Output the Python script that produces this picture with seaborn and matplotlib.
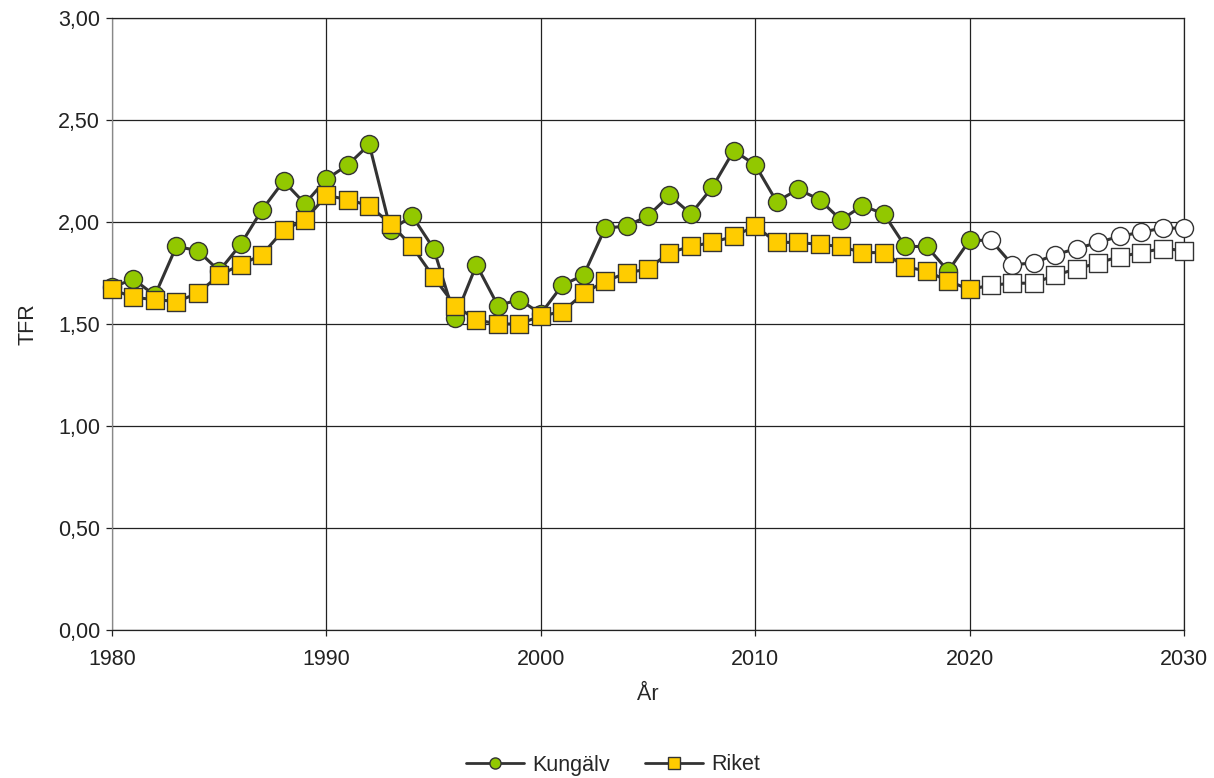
import numpy as np
import pandas as pd
import seaborn as sns
import matplotlib.pyplot as plt
from matplotlib.lines import Line2D
from matplotlib.ticker import FuncFormatter, MultipleLocator

# Data
years = list(range(1980, 2031))
kungalv = [1.68, 1.72, 1.64, 1.88, 1.86, 1.76, 1.89, 2.06, 2.20, 2.09,
           2.21, 2.28, 2.38, 1.96, 2.03, 1.87, 1.53, 1.79, 1.59, 1.62,
           1.55, 1.69, 1.74, 1.97, 1.98, 2.03, 2.13, 2.04, 2.17, 2.35,
           2.28, 2.10, 2.16, 2.11, 2.01, 2.08, 2.04, 1.88, 1.88, 1.76,
           1.91, 1.91, 1.79, 1.80, 1.84, 1.87, 1.90, 1.93, 1.95, 1.97,
           1.97]
riket = [1.67, 1.63, 1.62, 1.61, 1.65, 1.74, 1.79, 1.84, 1.96, 2.01,
         2.13, 2.11, 2.08, 1.99, 1.88, 1.73, 1.59, 1.52, 1.50, 1.50,
         1.54, 1.56, 1.65, 1.71, 1.75, 1.77, 1.85, 1.88, 1.90, 1.93,
         1.98, 1.90, 1.90, 1.89, 1.88, 1.85, 1.85, 1.78, 1.76, 1.71,
         1.67, 1.69, 1.70, 1.70, 1.74, 1.77, 1.80, 1.83, 1.85, 1.87,
         1.86]
last_actual = 2020  # later years are projections (white markers)

GREEN = '#92c800'
YELLOW = '#ffcc00'
LINE = '#333333'
FS = 15.5

df = pd.DataFrame({'Year': years, 'Kungälv': kungalv, 'Riket': riket})
df['proj'] = df['Year'] > last_actual

sns.set_style('white')
plt.rcParams['font.family'] = ['Liberation Sans', 'DejaVu Sans']

fig = plt.figure(figsize=(12.14, 7.78), dpi=100)
ax = fig.add_axes([112 / 1214, 1 - 630 / 778, 1072 / 1214, 612 / 778])

series = [('Kungälv', 'o', GREEN, 13), ('Riket', 's', YELLOW, 12.5)]
z = 3
for name, marker, color, ms in series:
    sns.lineplot(data=df, x='Year', y=name, color=LINE, linewidth=2.2, ax=ax, zorder=z)
    hist = df[~df['proj']]
    proj = df[df['proj']]
    sns.scatterplot(data=hist, x='Year', y=name, marker=marker, s=ms ** 2, clip_on=False,
                    color=color, edgecolor=LINE, linewidth=1.0, ax=ax, zorder=z + 1)
    sns.scatterplot(data=proj, x='Year', y=name, marker=marker, s=ms ** 2, clip_on=False,
                    color='white', edgecolor=LINE, linewidth=1.0, ax=ax, zorder=z + 1)
    z += 2

ax.set_xlim(1980, 2030)
ax.set_ylim(0, 3)
ax.xaxis.set_major_locator(MultipleLocator(10))
ax.yaxis.set_major_locator(MultipleLocator(0.5))
ax.yaxis.set_major_formatter(FuncFormatter(lambda v, p: f'{v:.2f}'.replace('.', ',')))
ax.grid(True, color='#222222', linewidth=0.9)
ax.set_axisbelow(True)
for s in ax.spines.values():
    s.set_color('#222222')
    s.set_linewidth(0.9)
ax.spines['left'].set_color('#888888')
ax.tick_params(axis='both', labelsize=FS, colors='#222222', length=4.5, width=0.9,
               direction='out', left=True, bottom=True)
ax.tick_params(axis='x', pad=9)
ax.tick_params(axis='y', pad=4)
ax.set_xlabel('År', fontsize=FS, labelpad=10)
ax.set_ylabel('TFR', fontsize=FS, labelpad=14)

handles = [Line2D([0], [0], color=LINE, linewidth=2, marker='o', markersize=8,
                  markerfacecolor=GREEN, markeredgecolor=LINE),
           Line2D([0], [0], color=LINE, linewidth=2, marker='s', markersize=8,
                  markerfacecolor=YELLOW, markeredgecolor=LINE)]
fig.legend(handles, ['Kungälv', 'Riket'], loc='center', bbox_to_anchor=(0.505, 1 - 765 / 778),
           ncol=2, frameon=False, fontsize=FS, handlelength=2.7, columnspacing=1.6,
           handletextpad=0.4)

fig.savefig('out.png', dpi=100)
